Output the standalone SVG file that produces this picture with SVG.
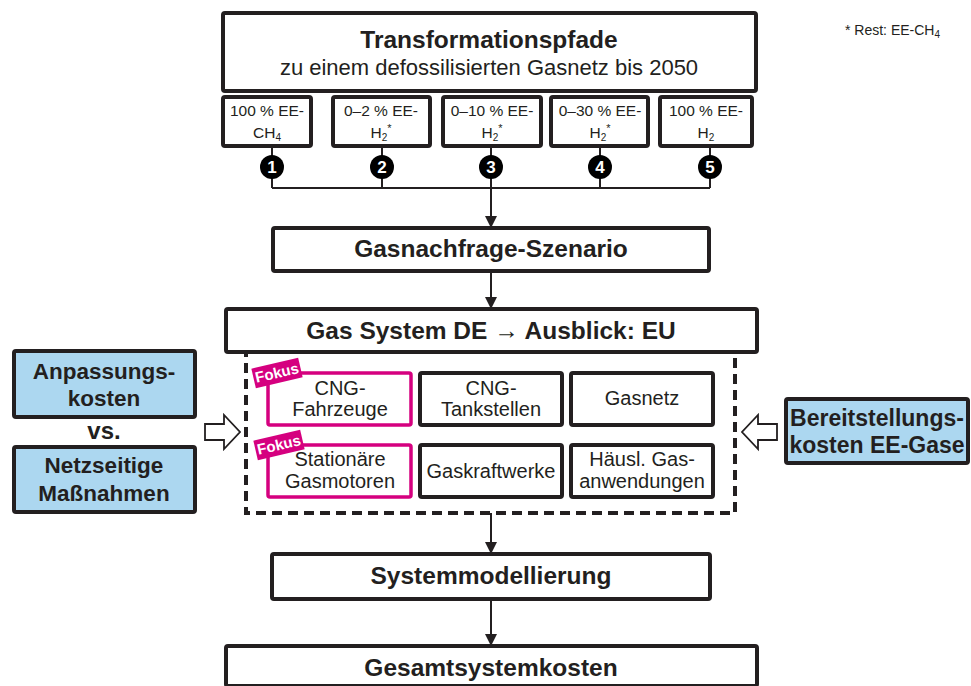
<svg xmlns="http://www.w3.org/2000/svg" width="971" height="686" viewBox="0 0 971 686">
<style>
text{font-family:"Liberation Sans",Arial,sans-serif;fill:#231f20}
.b{font-weight:bold}
.box{fill:#fff;stroke:#231f20;stroke-width:4}
.blue{fill:#acd7f0;stroke:#231f20;stroke-width:4}
.mag{fill:#fff;stroke:#d5007f;stroke-width:3.5}
.ln{fill:none;stroke:#231f20;stroke-width:2}
.h{font-size:24.5px;font-weight:bold;text-anchor:middle}
.s{font-size:15.5px;text-anchor:middle}
.m{font-size:20px;text-anchor:middle}
.c{font-size:17px;font-weight:bold;fill:#fff;text-anchor:middle}
.fk{font-size:15px;font-weight:bold;fill:#fff;text-anchor:middle}
.hollow{fill:#fff;stroke:#231f20;stroke-width:1.8;stroke-linejoin:miter}
</style>
<defs>
<marker id="ah" markerWidth="12" markerHeight="12" refX="11" refY="6" orient="auto" markerUnits="userSpaceOnUse">
<path d="M0,0 L12,6 L0,12 Z" fill="#231f20"/>
</marker>
</defs>

<text x="845" y="35" style="font-size:14px">* Rest: EE-CH<tspan dy="3" style="font-size:10px">4</tspan></text>

<g id="transformationspfade">
<rect class="box" x="223" y="13" width="533" height="78" rx="2"/>
<text class="h" x="489" y="48">Transformationspfade</text>
<text x="489" y="75" style="font-size:22px;text-anchor:middle">zu einem defossilisierten Gasnetz bis 2050</text>
</g>

<g id="pfad1">
<rect class="box" x="223" y="97" width="88" height="49" rx="2"/>
<text class="s" x="267" y="116">100 % EE-</text>
<text class="s" x="267" y="138">CH<tspan dy="3" style="font-size:10px">4</tspan></text>
</g>
<g id="pfad2">
<rect class="box" x="333" y="97" width="97" height="49" rx="2"/>
<text class="s" x="381" y="116">0–2 % EE-</text>
<text class="s" x="381" y="138">H<tspan dy="3" style="font-size:10px">2</tspan><tspan dy="-9" style="font-size:11px">*</tspan></text>
</g>
<g id="pfad3">
<rect class="box" x="443" y="97" width="98" height="49" rx="2"/>
<text class="s" x="492" y="116">0–10 % EE-</text>
<text class="s" x="492" y="138">H<tspan dy="3" style="font-size:10px">2</tspan><tspan dy="-9" style="font-size:11px">*</tspan></text>
</g>
<g id="pfad4">
<rect class="box" x="551" y="97" width="97" height="49" rx="2"/>
<text class="s" x="600" y="116">0–30 % EE-</text>
<text class="s" x="600" y="138">H<tspan dy="3" style="font-size:10px">2</tspan><tspan dy="-9" style="font-size:11px">*</tspan></text>
</g>
<g id="pfad5">
<rect class="box" x="660" y="97" width="92" height="49" rx="2"/>
<text class="s" x="706" y="116">100 % EE-</text>
<text class="s" x="706" y="138">H<tspan dy="3" style="font-size:10px">2</tspan></text>
</g>

<g id="connectors">
<path class="ln" d="M272,146 V188 M382,146 V188 M491,146 V188 M600,146 V188 M710,146 V188 M272,188 H710"/>
<path class="ln" d="M491,188 V227" marker-end="url(#ah)"/>
<path class="ln" d="M491,272 V308" marker-end="url(#ah)"/>
<path class="ln" d="M491,513 V553" marker-end="url(#ah)"/>
<path class="ln" d="M491,600 V645" marker-end="url(#ah)"/>
</g>

<g id="nummern">
<circle cx="272" cy="167" r="12" fill="#000"/><text class="c" x="272" y="173">1</text>
<circle cx="382" cy="167" r="12" fill="#000"/><text class="c" x="382" y="173">2</text>
<circle cx="491" cy="167" r="12" fill="#000"/><text class="c" x="491" y="173">3</text>
<circle cx="600" cy="167" r="12" fill="#000"/><text class="c" x="600" y="173">4</text>
<circle cx="710" cy="167" r="12" fill="#000"/><text class="c" x="710" y="173">5</text>
</g>

<g id="gasnachfrage">
<rect class="box" x="273" y="228" width="436" height="43" rx="2"/>
<text class="h" x="491" y="257">Gasnachfrage-Szenario</text>
</g>

<g id="gassystem">
<rect x="246" y="351" width="489" height="162" fill="none" stroke="#231f20" stroke-width="4" stroke-dasharray="10,6"/>
<rect class="box" x="226" y="309" width="531" height="43" rx="2"/>
<text class="h" x="491" y="339">Gas System DE → Ausblick: EU</text>
</g>

<g id="cng-fahrzeuge">
<rect class="mag" x="268" y="373" width="143" height="52" rx="2"/>
<text class="m" x="340" y="395">CNG-</text>
<text class="m" x="340" y="416">Fahrzeuge</text>
<g transform="translate(277,373) rotate(-13)">
<rect x="-24" y="-10" width="48" height="20" fill="#d5007f"/>
<text class="fk" x="0" y="5">Fokus</text>
</g>
</g>
<g id="cng-tankstellen">
<rect class="box" x="420" y="373" width="142" height="52" rx="2"/>
<text class="m" x="491" y="395">CNG-</text>
<text class="m" x="491" y="416">Tankstellen</text>
</g>
<g id="gasnetz">
<rect class="box" x="571" y="373" width="142" height="52" rx="2"/>
<text class="m" x="642" y="405">Gasnetz</text>
</g>
<g id="gasmotoren">
<rect class="mag" x="268" y="445" width="143" height="52" rx="2"/>
<text class="m" x="340" y="466">Stationäre</text>
<text class="m" x="340" y="488">Gasmotoren</text>
<g transform="translate(279,445) rotate(-13)">
<rect x="-24" y="-10" width="48" height="20" fill="#d5007f"/>
<text class="fk" x="0" y="5">Fokus</text>
</g>
</g>
<g id="gaskraftwerke">
<rect class="box" x="420" y="445" width="142" height="52" rx="2"/>
<text class="m" x="491" y="478">Gaskraftwerke</text>
</g>
<g id="haeusl">
<rect class="box" x="571" y="445" width="142" height="52" rx="2"/>
<text class="m" x="642" y="466">Häusl. Gas-</text>
<text class="m" x="642" y="488">anwendungen</text>
</g>

<g id="anpassungskosten">
<rect class="blue" x="14" y="351" width="181" height="66" rx="2"/>
<text class="b" x="104" y="379" style="font-size:22.5px;text-anchor:middle">Anpassungs-</text>
<text class="b" x="104" y="406" style="font-size:22.5px;text-anchor:middle">kosten</text>
</g>
<text class="b" x="104" y="439" style="font-size:24px;text-anchor:middle">vs.</text>
<g id="netzseitige">
<rect class="blue" x="14" y="447" width="181" height="65" rx="2"/>
<text class="b" x="104" y="473" style="font-size:22.5px;text-anchor:middle">Netzseitige</text>
<text class="b" x="104" y="501" style="font-size:22.5px;text-anchor:middle">Maßnahmen</text>
</g>
<g id="pfeil-links">
<path class="hollow" d="M205,424 H224 V415 L240,432 L224,449 V440 H205 Z"/>
</g>

<g id="bereitstellungskosten">
<rect class="blue" x="786" y="399" width="182" height="64" rx="2"/>
<text class="b" x="877" y="426" style="font-size:23px;text-anchor:middle">Bereitstellungs-</text>
<text class="b" x="877" y="453" style="font-size:23px;text-anchor:middle">kosten EE-Gase</text>
</g>
<g id="pfeil-rechts">
<path class="hollow" d="M777,424 H758 V415 L742,432 L758,449 V440 H777 Z"/>
</g>

<g id="systemmodellierung">
<rect class="box" x="272" y="554" width="438" height="45" rx="2"/>
<text class="h" x="491" y="584">Systemmodellierung</text>
</g>

<g id="gesamtsystemkosten">
<rect class="box" x="226" y="646" width="531" height="40" rx="2"/>
<text class="h" x="491" y="676">Gesamtsystemkosten</text>
</g>
</svg>
